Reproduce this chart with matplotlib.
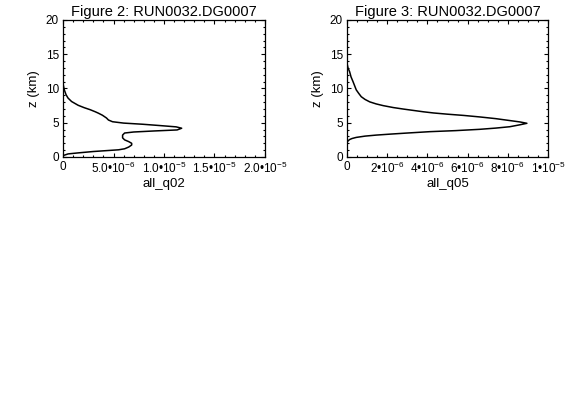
import matplotlib
matplotlib.use("Agg")
import matplotlib.pyplot as plt
from matplotlib.ticker import FixedLocator, MultipleLocator, FixedFormatter

plt.rcParams["font.family"] = ["Liberation Sans", "DejaVu Sans"]
plt.rcParams["mathtext.fontset"] = "custom"
plt.rcParams["mathtext.rm"] = "Liberation Sans"
plt.rcParams["mathtext.it"] = "Liberation Sans:italic"

# Figure 2: all_q02 profile, values in units of 1e-6, heights in km
q02_val = [0.0, 0.0, 0.5, 1.5, 3.0, 4.5, 5.5, 6.1, 6.5, 6.8, 6.8, 6.5, 6.1, 5.9,
           5.9, 6.1, 7.0, 9.0, 11.3, 11.75, 11.2, 9.5, 7.9, 6.0, 4.9, 4.5, 4.3,
           3.9, 3.5, 3.2, 2.7, 2.1, 1.5, 0.85, 0.5, 0.3, 0.13, 0.03, 0.0, 0.0]
q02_z = [0.0, 0.2, 0.45, 0.6, 0.8, 0.95, 1.05, 1.2, 1.45, 1.75, 2.0, 2.25, 2.5, 2.8,
         3.2, 3.5, 3.65, 3.8, 3.95, 4.2, 4.4, 4.6, 4.78, 4.95, 5.15, 5.4, 5.7,
         6.1, 6.4, 6.6, 6.9, 7.2, 7.55, 8.1, 8.6, 9.1, 9.8, 10.5, 11.0, 20.0]

# Figure 3: all_q05 profile, values in units of 1e-6
q05_val = [0.0, 0.0, 0.05, 0.13, 0.25, 0.46, 0.9, 1.46, 2.2, 3.0, 4.13, 5.4, 6.6,
           7.4, 8.1, 8.6, 8.95, 8.6, 8.1, 7.4, 6.6, 5.8, 5.0, 4.3, 3.8, 3.3, 2.8,
           2.3, 1.8, 1.45, 1.13, 0.9, 0.71, 0.58, 0.46, 0.38, 0.3, 0.2, 0.13,
           0.05, 0.0, 0.0]
q05_z = [0.0, 2.1, 2.35, 2.55, 2.7, 2.86, 3.05, 3.2, 3.35, 3.5, 3.7, 3.85, 4.04,
         4.22, 4.42, 4.7, 4.92, 5.12, 5.32, 5.6, 5.85, 6.07, 6.25, 6.43, 6.6, 6.8, 7.0,
         7.22, 7.5, 7.75, 8.05, 8.4, 8.8, 9.3, 9.8, 10.4, 11.0, 11.7, 12.45,
         13.0, 13.7, 20.0]

q02_ticks = [0, 5e-6, 1e-5, 1.5e-5, 2e-5]
q02_labels = ["0", "5.0\u202210$^{-6}$", "1.0\u202210$^{-5}$", "1.5\u202210$^{-5}$", "2.0\u202210$^{-5}$"]
q05_ticks = [0, 2e-6, 4e-6, 6e-6, 8e-6, 1e-5]
q05_labels = ["0", "2\u202210$^{-6}$", "4\u202210$^{-6}$", "6\u202210$^{-6}$", "8\u202210$^{-6}$", "1\u202210$^{-5}$"]


def profile(ax, vals, z, xmax, ticks, labels, minor, xlabel, title):
    ax.plot([v * 1e-6 for v in vals], z, color="black", lw=1.1)
    ax.set_xlim(0, xmax)
    ax.set_ylim(0, 20)
    ax.xaxis.set_major_locator(FixedLocator(ticks))
    ax.xaxis.set_major_formatter(FixedFormatter(labels))
    ax.xaxis.set_minor_locator(MultipleLocator(minor))
    ax.yaxis.set_major_locator(MultipleLocator(5))
    ax.yaxis.set_minor_locator(MultipleLocator(1))
    ax.tick_params(which="both", direction="in", top=True, right=True,
                   labelsize=8.5, width=0.8, pad=3)
    ax.tick_params(which="major", length=3)
    ax.tick_params(which="minor", length=1.5)
    for s in ax.spines.values():
        s.set_linewidth(0.9)
    ax.set_xlabel(xlabel, fontsize=9.5, labelpad=1)
    ax.set_ylabel("z (km)", fontsize=9.5, labelpad=4)
    ax.set_title(title, fontsize=10.5, pad=3)


fig = plt.figure(figsize=(5.66, 3.96), dpi=100)
ax1 = fig.add_axes([63 / 566, 1 - 157 / 396, 202 / 566, 137 / 396])
ax2 = fig.add_axes([347 / 566, 1 - 157 / 396, 201 / 566, 137 / 396])

profile(ax1, q02_val, q02_z, 2e-5, q02_ticks, q02_labels, 1e-6, "all_q02",
        "Figure 2: RUN0032.DG0007")
profile(ax2, q05_val, q05_z, 1e-5, q05_ticks, q05_labels, 0.5e-6, "all_q05",
        "Figure 3: RUN0032.DG0007")

fig.savefig("out.png", dpi=100)
